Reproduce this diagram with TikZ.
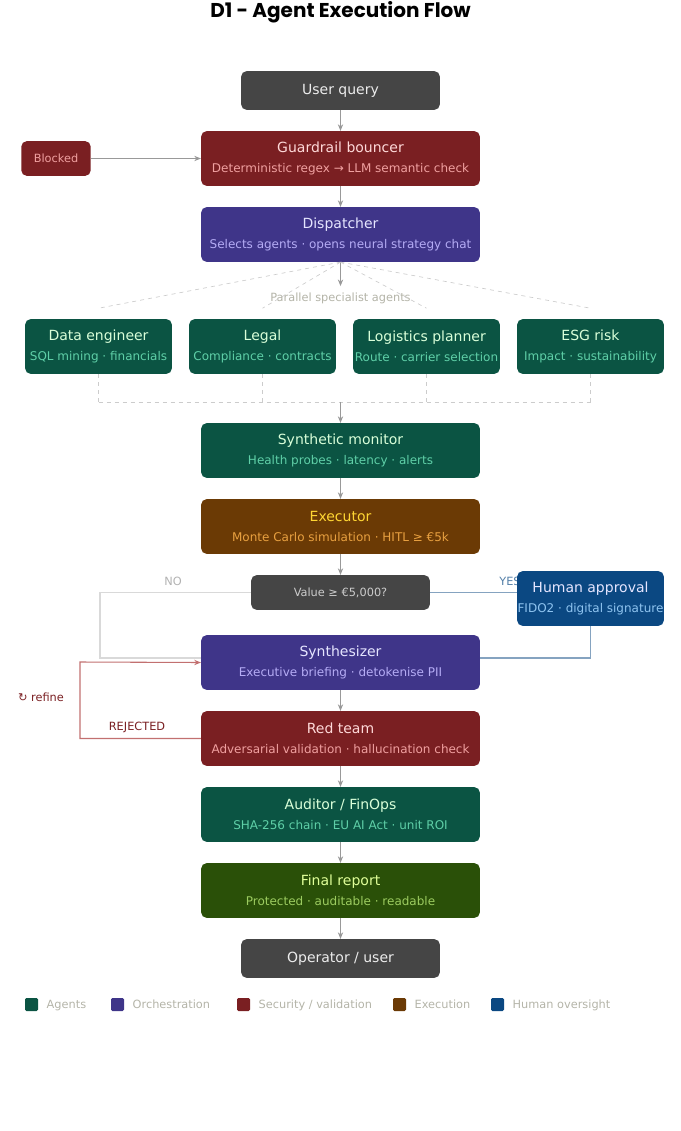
\documentclass[tikz,border=0pt]{standalone}
\usepackage{fontspec}
\setmainfont{DejaVu Sans}
\newfontfamily\titlefont{Poppins}
\usetikzlibrary{arrows.meta,positioning}

\definecolor{grayfill}{HTML}{454545}
\definecolor{redfill}{HTML}{7A1F22}
\definecolor{redsub}{HTML}{F0A0A0}
\definecolor{purpfill}{HTML}{3F3589}
\definecolor{purpsub}{HTML}{B5ACF5}
\definecolor{greenfill}{HTML}{0B5443}
\definecolor{greensub}{HTML}{5FD0A8}
\definecolor{brownfill}{HTML}{6B3A05}
\definecolor{brownsub}{HTML}{E8A040}
\definecolor{bluefill}{HTML}{0B4882}
\definecolor{bluesub}{HTML}{8FC4F0}
\definecolor{olivefill}{HTML}{2A5008}
\definecolor{olivesub}{HTML}{9CCC60}
\definecolor{arrowgray}{HTML}{999999}
\definecolor{legendtext}{HTML}{B4B4A8}

\tikzset{
  box/.style={rectangle, rounded corners=4pt, minimum width=209pt, minimum height=41pt,
    align=center, inner sep=0pt, font=\fontsize{10.5}{15}\selectfont},
  small/.style={box, minimum width=110pt},
  grey box/.style={box, fill=grayfill, text=white!85!gray, minimum width=149pt, minimum height=29pt},
  red box/.style={fill=redfill, text=red!15!white},
  purp box/.style={fill=purpfill, text=blue!10!white},
  green box/.style={fill=greenfill, text=green!15!white},
  brown box/.style={fill=brownfill, text=orange!40!yellow!80!white},
  blue box/.style={fill=bluefill, text=blue!10!white},
  olive box/.style={fill=olivefill, text=green!30!yellow!40!white},
  flow/.style={->, >={Stealth[length=5pt,width=4pt]}, draw=arrowgray, line width=0.6pt},
  fan/.style={draw=gray!40, dashed, line width=0.5pt},
  legend/.style={font=\fontsize{8.5}{10}\selectfont, text=legendtext, anchor=west, text height=7pt, text depth=2pt}
}
\newcommand{\sub}[2]{\\{\fontsize{9}{12}\selectfont\color{#1}#2}}

\begin{document}
\begin{tikzpicture}[x=0.75pt,y=-0.75pt]
  \useasboundingbox (0,0) rectangle (681,1131);

  \node[font=\titlefont\bfseries\fontsize{15}{18}\selectfont] (title) at (340.5,12) {D1 - Agent Execution Flow};

  \node[grey box] (query) at (340.5,90.5) {User query};
  \node[box,red box] (guard) at (340.5,158.5) {Guardrail bouncer\sub{redsub}{Deterministic regex → LLM semantic check}};
  \node[box,red box,minimum width=52pt,minimum height=26pt,font=\fontsize{8.5}{10}\selectfont,text=redsub] (blocked) at (56,158.5) {Blocked};
  \node[box,purp box] (disp) at (340.5,234.5) {Dispatcher\sub{purpsub}{Selects agents · opens neural strategy chat}};
  \node[font=\fontsize{8.5}{10}\selectfont,text=legendtext,fill=white,inner sep=1pt] (par) at (340.5,298) {Parallel specialist agents};

  \node[small,green box] (data) at (98.5,346.5) {Data engineer\sub{greensub}{SQL mining · financials}};
  \node[small,green box] (legal) at (262.5,346.5) {Legal\sub{greensub}{Compliance · contracts}};
  \node[small,green box] (logi) at (426.5,346.5) {Logistics planner\sub{greensub}{Route · carrier selection}};
  \node[small,green box] (esg) at (590.5,346.5) {ESG risk\sub{greensub}{Impact · sustainability}};
  \coordinate (join) at (340.5,402);

  \node[box,green box] (mon) at (340.5,450.5) {Synthetic monitor\sub{greensub}{Health probes · latency · alerts}};
  \node[box,brown box] (exec) at (340.5,526.5) {Executor\sub{brownsub}{Monte Carlo simulation · HITL ≥ €5k}};
  \node[grey box,minimum width=134pt,minimum height=26pt,font=\fontsize{8.5}{10}\selectfont,text=gray!40] (dec) at (340.5,592.5) {Value ≥ €5,000?};
  \node[box,purp box] (synth) at (340.5,662.5) {Synthesizer\sub{purpsub}{Executive briefing · detokenise PII}};
  \node[box,red box] (red) at (340.5,738.5) {Red team\sub{redsub}{Adversarial validation · hallucination check}};
  \node[box,green box] (audit) at (340.5,814.5) {Auditor / FinOps\sub{greensub}{SHA-256 chain · EU AI Act · unit ROI}};
  \node[box,olive box] (final) at (340.5,890.5) {Final report\sub{olivesub}{Protected · auditable · readable}};
  \node[grey box] (oper) at (340.5,958.5) {Operator / user};

  % main chain
  \draw[flow] (query) -- (guard);
  \draw[flow] (guard) -- (disp);
  \draw[flow] (blocked) -- (guard);
  \draw[flow] (disp.south) -- ++(0,24);
  \foreach \a in {data,legal,logi,esg}{
    \draw[fan] (disp.south) -- ([yshift=8pt]\a.north);
    \draw[fan] (\a.south) -- (\a.south |- join);
  }
  \draw[fan] (data.south |- join) -- (esg.south |- join);
  \draw[flow] (join) -- (mon);
  \draw[flow] (mon) -- (exec);
  \draw[flow] (exec) -- (dec);
  \draw[flow] (synth) -- (red);
  \draw[flow] (red) -- (audit);
  \draw[flow] (audit) -- (final);
  \draw[flow] (final) -- (oper);

  % decision branches
  \draw[draw=gray!30, line width=0.8pt] (dec.west) -| (100,658) -- (synth.west |- 0,658);
  \node[legend,anchor=center,text=gray!60] (no) at (173,582) {NO};
  \node[legend,anchor=center,text=bluefill!70!white] (yes) at (510,582) {YES};
  \node[small,blue box] (human) at (590.5,598.5) {Human approval\sub{bluesub}{FIDO2 · digital signature}};
  \draw[draw=bluefill!50!white, line width=0.8pt] (dec.east) -- (human.west |- dec.east);
  \draw[draw=bluefill!50!white, line width=0.8pt] (human.south) |- (synth.east |- 0,658);

  % refine loop
  \draw[->, >={Stealth[length=5pt,width=4pt]}, draw=red!40!gray!80, line width=0.8pt]
    (red.west) -| (80,662) -- (synth.west);
  \node[legend,anchor=center,text=redfill] (rej) at (137,727) {REJECTED};
  \node[legend,anchor=center,text=redfill] (ref) at (41,698) {↻ refine};

  % legend
  \foreach \x/\c/\t in {25/greenfill/{Agents}, 111/purpfill/{Orchestration}, 237/redfill/{Security / validation}, 393/brownfill/{Execution}, 491/bluefill/{Human oversight}}{
    \fill[\c, rounded corners=1pt] (\x,998) rectangle ++(13,13);
    \node[legend] at (\x+17,1005) {\t};
  }
\end{tikzpicture}
\end{document}
